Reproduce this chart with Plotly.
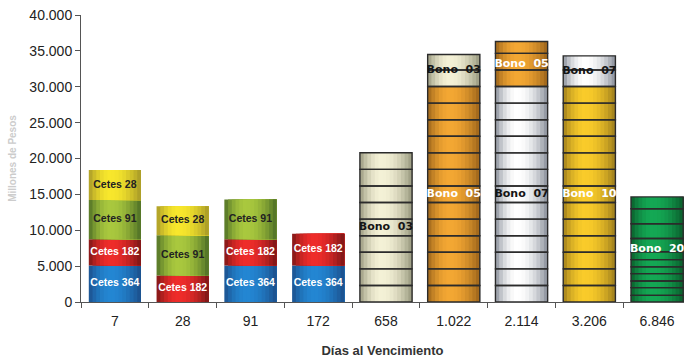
import math
import plotly.graph_objects as go

# ---------------- data ----------------
categories = ["7", "28", "91", "172", "658", "1.022", "2.114", "3.206", "6.846"]

cetes_364 = [5100, None, 5100, 5100, None, None, None, None, None]
cetes_182 = [3650, 3700, 3650, 4400, None, None, None, None, None]
cetes_91 = [5450, 5600, 5550, None, None, None, None, None, None]
cetes_28 = [4200, 4050, None, None, None, None, None, None, None]
bono_20 = [None, None, None, None, None, None, None, None, 14650]
bono_10 = [None, None, None, None, None, None, None, 30100, None]
bono_07 = [None, None, None, None, None, None, 30100, 4200, None]
bono_05 = [None, None, None, None, None, 30100, 6200, None, None]
bono_03 = [None, None, None, None, 20800, 4400, None, None, None]

series_names = ["Cetes 364", "Cetes 182", "Cetes 91", "Cetes 28",
                "Bono  20", "Bono  10", "Bono  07", "Bono  05", "Bono  03"]
series_values = [cetes_364, cetes_182, cetes_91, cetes_28,
                 bono_20, bono_10, bono_07, bono_05, bono_03]

y_ticks = [0, 5000, 10000, 15000, 20000, 25000, 30000, 35000, 40000]

# stripe (coin edge) levels
stripe_step = 2310
bono20_stripes = [930, 2000, 2930, 3960, 4900, 5900, 7000, 8840, 10900, 13000]

# ---------------- style ----------------
styles = {
    "Cetes 364": dict(edge="#1b4c88", light="#2386d2", text="white", font="Liberation Sans", size=10.5),
    "Cetes 182": dict(edge="#761515", light="#ee2c2a", text="white", font="Liberation Sans", size=10.5),
    "Cetes 91": dict(edge="#4b6c25", light="#a9c83e", text="#222222", font="Liberation Sans", size=10.5),
    "Cetes 28": dict(edge="#a49628", light="#f8e72c", text="#222222", font="Liberation Sans", size=10.5),
    "Bono  20": dict(edge="#0a5a2a", light="#14a854", text="white", font="DejaVu Sans", size=11),
    "Bono  10": dict(edge="#9c7c1c", light="#f9cb2a", text="white", font="DejaVu Sans", size=11),
    "Bono  07": dict(edge="#878d98", light="#ffffff", text="#151515", font="DejaVu Sans", size=11),
    "Bono  05": dict(edge="#99621a", light="#f3a733", text="white", font="DejaVu Sans", size=11),
    "Bono  03": dict(edge="#96967c", light="#f4f1d6", text="#151515", font="DejaVu Sans", size=11),
}
BAR_W = 0.77
N_STRIPS = 14


def hex2rgb(h):
    h = h.lstrip("#")
    return tuple(int(h[i:i + 2], 16) for i in (0, 2, 4))


def mix(c1, c2, f):
    a, b = hex2rgb(c1), hex2rgb(c2)
    return "rgb(%d,%d,%d)" % tuple(round(a[i] + (b[i] - a[i]) * f) for i in range(3))


def profile(t):
    peak = 0.42
    if t < peak:
        return math.sin(math.pi / 2 * t / peak) ** 0.8
    return math.cos(math.pi / 2 * (t - peak) / (1 - peak)) ** 0.9


# compute stacking bases
n = len(categories)
running = [0] * n
bases = []
for vals in series_values:
    b = []
    for i, v in enumerate(vals):
        b.append(running[i] if v is not None else None)
        if v is not None:
            running[i] += v
    bases.append(b)
totals = running

fig = go.Figure()

# shaded cylinder bars (vertical strips, each overlapping the previous one)
for name, vals, base in zip(series_names, series_values, bases):
    st = styles[name]
    xs = [c for c, v in zip(categories, vals) if v is not None]
    ys = [v for v in vals if v is not None]
    bs = [b for b, v in zip(base, vals) if v is not None]
    sw = BAR_W / N_STRIPS
    for j in range(N_STRIPS):
        t = (j + 0.5) / N_STRIPS
        left = -BAR_W / 2 + j * sw
        fig.add_trace(go.Bar(
            x=xs, y=ys, base=bs,
            width=BAR_W / 2 - left, offset=left,
            marker=dict(color=mix(st["edge"], st["light"], profile(t)), line=dict(width=0)),
            showlegend=False, hoverinfo="skip",
        ))

# stripes on the Bono bars
bono_series = series_values[4:]
sx, sy, sb = [], [], []
for i, c in enumerate(categories):
    if not any(v[i] is not None for v in bono_series):
        continue
    tot = totals[i]
    if c == "6.846":
        lv = [0] + [s for s in bono20_stripes if s < tot] + [tot]
    else:
        k = int(tot // stripe_step)
        lv = [0] + [stripe_step * m for m in range(1, k + 1) if stripe_step * m < tot - 300] + [tot]
    for a, b in zip(lv[:-1], lv[1:]):
        sx.append(c)
        sb.append(a)
        sy.append(b - a)
fig.add_trace(go.Bar(
    x=sx, y=sy, base=sb, width=BAR_W, offset=-BAR_W / 2,
    marker=dict(color="rgba(0,0,0,0)", line=dict(color="#2b2b2b", width=1.4)),
    showlegend=False, hoverinfo="skip",
))

# labels
for name, vals, base in zip(series_names, series_values, bases):
    st = styles[name]
    xs = [c for c, v in zip(categories, vals) if v is not None]
    ys = [b + v / 2 for b, v in zip(base, vals) if v is not None]
    fig.add_trace(go.Scatter(
        x=xs, y=ys, mode="text", text=[name] * len(xs),
        textfont=dict(family=st["font"], size=st["size"], color=st["text"], weight="bold"),
        textposition="middle center", showlegend=False, hoverinfo="skip", cliponaxis=False,
    ))

fig.update_layout(
    width=684, height=358,
    margin=dict(l=81, r=0, t=15, b=56),
    barmode="overlay",
    bargap=0.2,
    plot_bgcolor="white", paper_bgcolor="white",
    separators=",.",
    showlegend=False,
    font=dict(family="Liberation Sans", color="#222222"),
)
fig.update_xaxes(
    type="category", categoryorder="array", categoryarray=categories,
    range=[-0.5, 8.397],
    showline=True, linecolor="#555555", linewidth=1,
    ticks="outside", tickson="boundaries", ticklen=5, tickcolor="#555555",
    tickfont=dict(size=14, color="#222222"),
    ticklabelstandoff=6,
    showgrid=False,
    title=dict(text="Días al Vencimiento", standoff=18,
               font=dict(size=13, color="#333333", family="Liberation Sans", weight="bold")),
)
fig.update_yaxes(
    range=[0, 40000], tickvals=y_ticks, tickformat=",d",
    showline=True, linecolor="#555555", linewidth=1,
    ticks="outside", ticklen=5, tickcolor="#555555",
    tickfont=dict(size=14, color="#222222"),
    showgrid=False, zeroline=False,
    title=dict(text="Millones de Pesos", standoff=10,
               font=dict(size=10, color="#cccccc", family="Liberation Sans", weight="bold")),
)

fig.write_html("out.html")
